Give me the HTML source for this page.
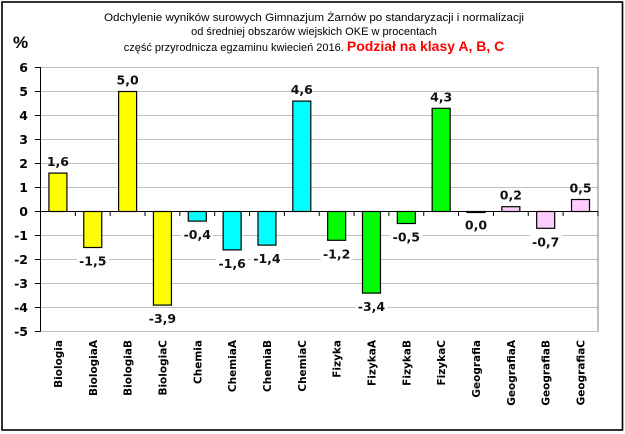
<!DOCTYPE html>
<html><head><meta charset="utf-8"><style>
html,body{margin:0;padding:0;background:#fff;}
svg{display:block;}
</style></head><body>
<svg width="625" height="434" xmlns="http://www.w3.org/2000/svg" font-family="'DejaVu Sans', 'Liberation Sans', sans-serif">
<rect x="2" y="2" width="620.5" height="428" fill="#fff" stroke="#000" stroke-width="1.6"/>
<g font-family="'Liberation Sans', Arial, sans-serif" font-size="11" text-anchor="middle" fill="#000">
<text x="314" y="21" textLength="420" lengthAdjust="spacingAndGlyphs">Odchylenie wyników surowych Gimnazjum Żarnów po standaryzacji i normalizacji</text>
<text x="314" y="35">od średniej obszarów wiejskich OKE w procentach</text>
<text x="314" y="51">część przyrodnicza egzaminu kwiecień 2016. <tspan fill="#ff0000" font-weight="bold" font-size="14">Podział na klasy A, B, C</tspan></text>
</g>
<text x="13" y="48" font-family="'Liberation Sans', sans-serif" font-weight="bold" font-size="17">%</text>
<g stroke="#c0c0c0" stroke-width="1">
<line x1="40.5" x2="598" y1="67.5" y2="67.5"/><line x1="40.5" x2="598" y1="91.5" y2="91.5"/>
<line x1="40.5" x2="598" y1="115.5" y2="115.5"/><line x1="40.5" x2="598" y1="139.5" y2="139.5"/>
<line x1="40.5" x2="598" y1="163.5" y2="163.5"/><line x1="40.5" x2="598" y1="187.5" y2="187.5"/>
<line x1="40.5" x2="598" y1="235.5" y2="235.5"/><line x1="40.5" x2="598" y1="259.5" y2="259.5"/>
<line x1="40.5" x2="598" y1="283.5" y2="283.5"/><line x1="40.5" x2="598" y1="307.5" y2="307.5"/>
<line x1="40.5" x2="598" y1="331.5" y2="331.5"/>
</g>
<line x1="598" x2="598" y1="67" y2="331.5" stroke="#808080"/>
<g id="bars" stroke="#000" stroke-width="1.2"></g>
<line x1="40.5" x2="40.5" y1="67" y2="331.5" stroke="#000"/>
<line x1="40.5" x2="598" y1="211.5" y2="211.5" stroke="#000"/>
<g stroke="#000" id="ticks"></g>
<g font-weight="bold" font-size="12.5" text-anchor="end" fill="#000" id="ylab"></g>
<g id="vlab" font-weight="bold" font-size="12.5" text-anchor="middle" fill="#111"></g>
<g id="xlab" font-weight="bold" font-size="10.5" text-anchor="end" fill="#000"></g>
<script>
(function(){
var ns="http://www.w3.org/2000/svg";
function el(p,t,a,txt){var e=document.createElementNS(ns,t);for(var k in a)e.setAttribute(k,a[k]);if(txt!=null)e.textContent=txt;document.getElementById(p).appendChild(e);return e;}
var names=["Biologia","BiologiaA","BiologiaB","BiologiaC","Chemia","ChemiaA","ChemiaB","ChemiaC","Fizyka","FizykaA","FizykaB","FizykaC","Geografia","GeografiaA","GeografiaB","GeografiaC"];
var vals=[1.6,-1.5,5.0,-3.9,-0.4,-1.6,-1.4,4.6,-1.2,-3.4,-0.5,4.3,0.0,0.2,-0.7,0.5];
var cols=["#ffff00","#00ffff","#00ff00","#ffccff"];
var w=34.84,y0=211.5,u=24;
for(var yy=-5;yy<=6;yy++){var py=y0-yy*u;el("ticks","line",{x1:35,x2:40.5,y1:py,y2:py});el("ylab","text",{x:28,y:py+4.5},String(yy));}
for(var i=0;i<=16;i++){var px=40.5+i*w;el("ticks","line",{x1:px,x2:px,y1:211.5,y2:216});}
for(var j=0;j<16;j++){
 var cx=40.5+w*(j+0.5),v=vals[j],bt=v>=0?y0-v*u:y0,h=Math.abs(v)*u;
 el("bars","rect",{x:cx-9,y:bt,width:18,height:Math.max(h,1),fill:cols[Math.floor(j/4)]});
 var s=v.toFixed(1).replace(".",",");
 var ly=v>0?bt-7:(v==0?y0+18:y0+h+18);
 if(v<0){el("vlab","rect",{x:cx-16,y:ly-12,width:32,height:16,fill:"#fff",stroke:"none"});}
 el("vlab","text",{x:cx,y:ly},s);
 el("xlab","text",{x:0,y:0,transform:"translate("+(cx+4)+",340) rotate(-90)"},names[j]);
}
})();
</script>
</svg>
</body></html>
